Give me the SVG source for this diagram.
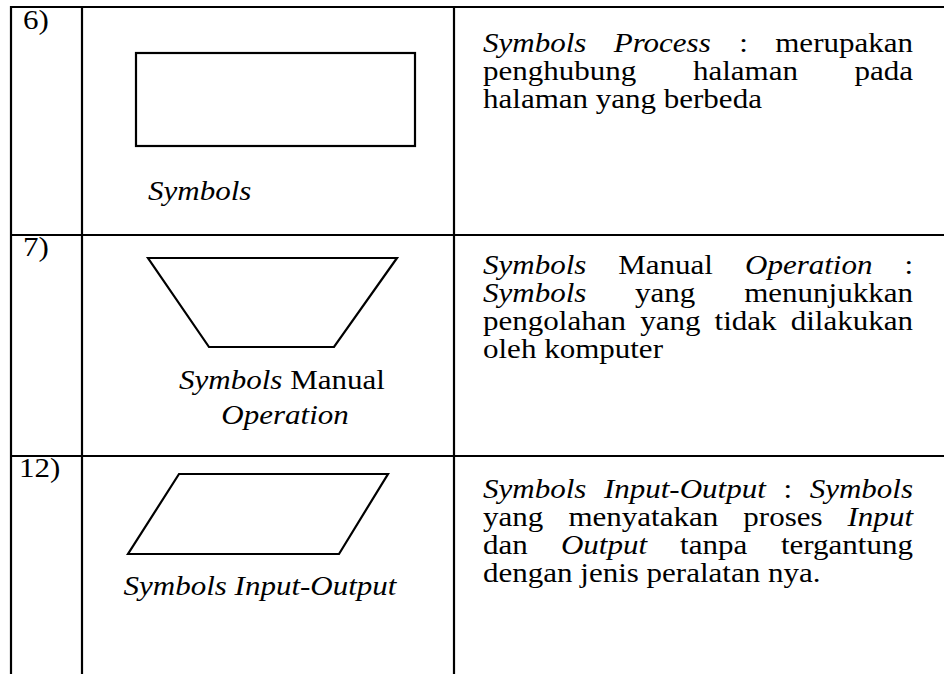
<svg xmlns="http://www.w3.org/2000/svg" width="944" height="674" viewBox="0 0 944 674">
<style>
.t{font-family:"Liberation Serif","Times New Roman",Times,serif;font-size:27.5px;fill:#000}
.i{font-style:italic}
.g{stroke:#000;stroke-width:2.2;fill:none}
.s{stroke:#000;stroke-width:2.2;fill:#fff;stroke-linejoin:miter}
</style>
<rect width="944" height="674" fill="#fff"/>
<g id="table">
<line class="g" x1="10" y1="7" x2="944" y2="7"/>
<line class="g" x1="10" y1="235" x2="944" y2="235"/>
<line class="g" x1="10" y1="456" x2="944" y2="456"/>
<line class="g" x1="11" y1="6" x2="11" y2="674"/>
<line class="g" x1="82" y1="6" x2="82" y2="674"/>
<line class="g" x1="454" y1="6" x2="454" y2="674"/>
</g>
<g id="row6">
<rect class="s" x="136" y="53" width="279" height="93"/>
<g transform="scale(1.128 1)">
<text class="t" x="20.4" y="29">6)</text>
<text class="t i" x="131.2" y="200">Symbols</text>
<text class="t"><tspan class="i" x="428.2" y="52">Symbols</tspan><tspan class="i" x="544.1" y="52">Process</tspan><tspan x="655.3" y="52">:</tspan><tspan x="809.4" y="52" text-anchor="end">merupakan</tspan></text>
<text class="t"><tspan x="428.2" y="80">penghubung</tspan><tspan x="614.3" y="80">halaman</tspan><tspan x="809.4" y="80" text-anchor="end">pada</tspan></text>
<text class="t" x="428.2" y="108">halaman yang berbeda</text>
</g>
</g>
<g id="row7">
<polygon class="s" points="148,258 397,258 334,347 209,347"/>
<g transform="scale(1.128 1)">
<text class="t" x="20.4" y="256">7)</text>
<text class="t" x="250" y="389" text-anchor="middle"><tspan class="i">Symbols</tspan> Manual</text>
<text class="t i" x="252.7" y="424" text-anchor="middle">Operation</text>
<text class="t"><tspan class="i" x="428.2" y="274">Symbols</tspan><tspan x="548.1" y="274">Manual</tspan><tspan class="i" x="660.5" y="274">Operation</tspan><tspan x="809.4" y="274" text-anchor="end">:</tspan></text>
<text class="t"><tspan class="i" x="428.2" y="302">Symbols</tspan><tspan x="563" y="302">yang</tspan><tspan x="809.4" y="302" text-anchor="end">menunjukkan</tspan></text>
<text class="t"><tspan x="428.2" y="330">pengolahan</tspan><tspan x="567.5" y="330">yang</tspan><tspan x="633.5" y="330">tidak</tspan><tspan x="809.4" y="330" text-anchor="end">dilakukan</tspan></text>
<text class="t" x="428.2" y="358">oleh komputer</text>
</g>
</g>
<g id="row12">
<polygon class="s" points="179,474 388,474 339,554 128,554"/>
<g transform="scale(1.128 1)">
<text class="t" x="16.8" y="477">12)</text>
<text class="t i" x="230.5" y="595" text-anchor="middle">Symbols Input-Output</text>
<text class="t"><tspan class="i" x="428.2" y="498">Symbols</tspan><tspan class="i" x="535.4" y="498">Input-Output</tspan><tspan x="694.5" y="498">:</tspan><tspan class="i" x="809.4" y="498" text-anchor="end">Symbols</tspan></text>
<text class="t"><tspan x="428.2" y="526">yang</tspan><tspan x="503.9" y="526">menyatakan</tspan><tspan x="659" y="526">proses</tspan><tspan class="i" x="809.4" y="526" text-anchor="end">Input</tspan></text>
<text class="t"><tspan x="428.2" y="554">dan</tspan><tspan class="i" x="497.3" y="554">Output</tspan><tspan x="602.9" y="554">tanpa</tspan><tspan x="809.4" y="554" text-anchor="end">tergantung</tspan></text>
<text class="t" x="428.2" y="582">dengan jenis peralatan nya.</text>
</g>
</g>
</svg>
